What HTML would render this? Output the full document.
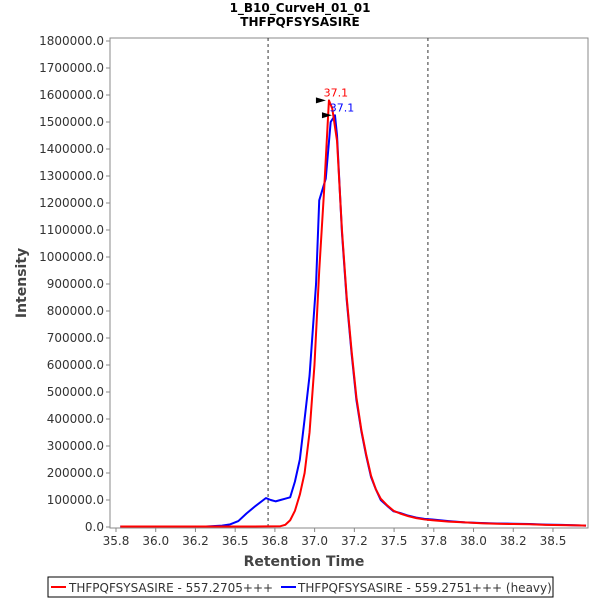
<!DOCTYPE html>
<html><head><meta charset="utf-8"><style>
body{margin:0;background:#fff;font-family:"Liberation Sans","DejaVu Sans",sans-serif}
svg text{font-family:"DejaVu Sans","Liberation Sans",sans-serif}
</style></head><body>
<svg id="chart" width="600" height="600">
<text x="300" y="12" text-anchor="middle" font-size="12" font-weight="bold">1_B10_CurveH_01_01</text>
<text x="300" y="26" text-anchor="middle" font-size="12" font-weight="bold">THFPQFSYSASIRE</text>
<rect x="110" y="38" width="478" height="490" fill="#fff" stroke="#888"/>
<g id="axes"></g>
<g id="marks"></g>
<text x="304" y="566" text-anchor="middle" font-size="14" font-weight="bold" fill="#444">Retention Time</text>
<text transform="translate(26,283) rotate(-90)" text-anchor="middle" font-size="14" font-weight="bold" fill="#444">Intensity</text>
<g>
<rect x="48" y="577" width="505" height="20" fill="#fff" stroke="#000"/>
<line x1="51" y1="587" x2="66" y2="587" stroke="red" stroke-width="2"/>
<text x="69" y="592" font-size="12" fill="#333">THFPQFSYSASIRE - 557.2705+++</text>
<line x1="281" y1="587" x2="296" y2="587" stroke="blue" stroke-width="2"/>
<text x="298" y="592" font-size="12" fill="#333">THFPQFSYSASIRE - 559.2751+++ (heavy)</text>
</g>
</svg>
<script>
const xTicks=[35.75,36.0,36.25,36.5,36.75,37.0,37.25,37.5,37.75,38.0,38.25,38.5];
const xTickLabels=["35.8","36.0","36.2","36.5","36.8","37.0","37.2","37.5","37.8","38.0","38.2","38.5"];
const yTicks=[0,100000,200000,300000,400000,500000,600000,700000,800000,900000,1000000,1100000,1200000,1300000,1400000,1500000,1600000,1700000,1800000];
const boundaries=[36.707,37.713];
const redTimes=[35.777,36.011,36.316,36.622,36.785,36.815,36.846,36.876,36.907,36.937,36.968,36.999,37.029,37.060,37.090,37.111,37.141,37.172,37.202,37.233,37.263,37.294,37.324,37.355,37.385,37.416,37.457,37.497,37.538,37.589,37.640,37.691,37.742,37.844,37.946,38.047,38.149,38.251,38.353,38.455,38.556,38.658,38.708];
const redValues=[2000,2000,2000,2000,3000,8000,25000,60000,120000,200000,350000,600000,950000,1250000,1580000,1550000,1430000,1100000,850000,650000,480000,360000,270000,190000,140000,105000,80000,60000,50000,40000,33000,28000,25000,20000,17000,14000,12000,11000,10000,8000,7000,6000,5000];
const blueTimes=[35.777,36.011,36.316,36.418,36.469,36.520,36.571,36.622,36.693,36.724,36.754,36.785,36.815,36.846,36.876,36.907,36.937,36.968,37.009,37.029,37.070,37.101,37.128,37.141,37.172,37.202,37.233,37.263,37.294,37.324,37.355,37.385,37.416,37.457,37.497,37.538,37.589,37.640,37.691,37.742,37.844,37.946,38.047,38.149,38.251,38.353,38.455,38.556,38.658,38.708];
const blueValues=[2000,2000,2000,5000,10000,22000,50000,75000,107000,100000,95000,100000,105000,110000,168000,250000,400000,560000,900000,1210000,1290000,1500000,1525000,1450000,1090000,840000,640000,470000,355000,265000,185000,140000,100000,78000,58000,52000,42000,35000,30000,28000,22000,17000,15000,13000,12000,11000,9000,8000,6000,5000];
const peakRed={t:37.090,v:1580000,label:"37.1"};
const peakBlue={t:37.128,v:1525000,label:"37.1"};
const X=t=>116+(t-35.75)*158.9;
const Y=v=>527-v/100000*27;
const NS="http://www.w3.org/2000/svg";
const axes=document.getElementById('axes'),marks=document.getElementById('marks');
function mk(tag,attrs,parent){const e=document.createElementNS(NS,tag);for(const k in attrs)e.setAttribute(k,attrs[k]);parent.appendChild(e);return e;}
xTicks.forEach((t,i)=>{
 mk('line',{x1:X(t),x2:X(t),y1:528,y2:532,stroke:'#888'},axes);
 const tx=mk('text',{x:X(t),y:545,'text-anchor':'middle','font-size':12,fill:'#333'},axes);
 tx.textContent=xTickLabels[i];
 
 
});
yTicks.forEach(v=>{
 mk('line',{x1:106,x2:110,y1:Y(v),y2:Y(v),stroke:'#888'},axes);
 const tx=mk('text',{x:104,y:Y(v)+4,'text-anchor':'end','font-size':12,fill:'#333'},axes);
 tx.textContent=v.toFixed(1);
 
 
});
boundaries.forEach(t=>{
 const l=mk('line',{x1:X(t),x2:X(t),y1:38,y2:528,stroke:'#333','stroke-dasharray':'3,3'},marks);
 
 
});
function series(ts,vs,color,name){
 const p=mk('polyline',{points:ts.map((t,i)=>X(t)+','+Y(vs[i])).join(' '),fill:'none',stroke:color,'stroke-width':2,'stroke-linejoin':'round'},marks);
 
 
}
series(blueTimes,blueValues,'blue','heavy-series-line');
series(redTimes,redValues,'red','light-series-line');
function peak(pk,color,name){
 const x=X(pk.t),y=Y(pk.v);
 const a=mk('polygon',{points:`${x-13},${y-3} ${x-3},${y} ${x-13},${y+3}`,fill:'#000'},marks);
 
 
 const tx=mk('text',{x:x+7,y:y-4,'text-anchor':'middle','font-size':11,fill:color},marks);
 tx.textContent=pk.label;
 
 
}
peak(peakRed,'red','light-peak');
peak(peakBlue,'blue','heavy-peak');
</script>
</body></html>
